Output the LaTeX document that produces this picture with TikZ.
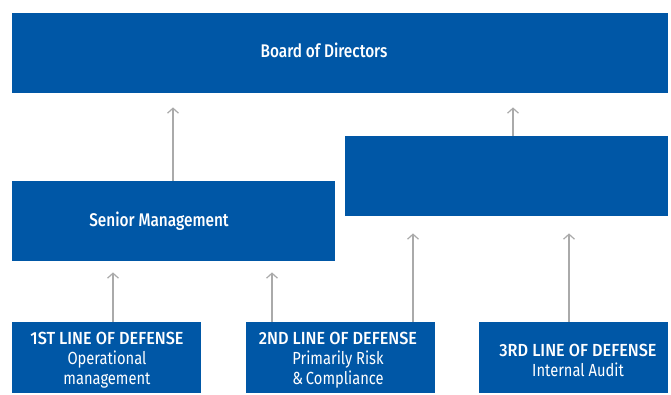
\documentclass[tikz,border=0pt]{standalone}
\usepackage{fontspec}
\setmainfont{Fira Sans}[FakeStretch=0.84]
\newfontfamily\medfont{Fira Sans Medium}[FakeStretch=0.84]
\newfontfamily\headfont{Fira Sans Medium}[FakeStretch=0.93]
\usetikzlibrary{arrows.meta}
\definecolor{corpblue}{RGB}{0,87,166}
\definecolor{arrowgray}{RGB}{170,170,170}
\begin{document}
\begin{tikzpicture}[x=1pt,y=-1pt,
  box/.style={fill=corpblue, draw=none, anchor=north west, inner sep=0pt},
  title/.style={text=white, font=\medfont\fontsize{18.3}{22}\selectfont, inner sep=0pt},
  lod/.style={text=white, align=center, inner sep=0pt,
    font=\fontsize{17.5}{20}\selectfont},
  arr/.style={draw=arrowgray, line width=1.4pt,
    -{Straight Barb[length=5pt,width=11pt,line width=1.2pt]}}]
  \useasboundingbox (0,0) rectangle (671,394);

  % boxes
  \node[box, minimum width=656pt, minimum height=80pt] (board) at (12,13) {};
  \node[box, minimum width=323pt, minimum height=80pt] (senior) at (12,181) {};
  \node[box, minimum width=323pt, minimum height=80pt] (oversight) at (345,136) {};
  \node[box, minimum width=189pt, minimum height=71pt] (first) at (12,322) {};
  \node[box, minimum width=189pt, minimum height=71pt] (second) at (246,322) {};
  \node[box, minimum width=189pt, minimum height=71pt] (third) at (479,322) {};

  % labels
  \node[title] (boardtxt) at (324,50) {Board of Directors};
  \node[title] (seniortxt) at (159,221) {Senior Management};
  \node[lod] (firsttxt) at (107,360) {{\headfont 1ST LINE OF DEFENSE}\\Operational\\management};
  \node[lod] (secondtxt) at (338,360) {{\headfont 2ND LINE OF DEFENSE}\\Primarily Risk\\\&\,Compliance};
  \node[lod] (thirdtxt) at (578,360) {{\headfont 3RD LINE OF DEFENSE}\\Internal Audit};

  % arrow columns
  \coordinate (c1) at (113,0);
  \coordinate (c2) at (272,0);
  \coordinate (c3) at (413,0);
  \coordinate (c4) at (569,0);
  \coordinate (c5) at (173,0);
  \coordinate (c6) at (513,0);

  % connectors
  \draw[arr, shorten >=14pt] (senior.north -| c5) -- (board.south -| c5);
  \draw[arr, shorten >=14pt] (oversight.north -| c6) -- (board.south -| c6);
  \draw[arr, shorten >=11pt] (first.north -| c1) -- (senior.south -| c1);
  \draw[arr, shorten >=11pt] (second.north -| c2) -- (senior.south -| c2);
  \draw[arr, shorten >=17pt] (second.north -| c3) -- (oversight.south -| c3);
  \draw[arr, shorten >=17pt] (third.north -| c4) -- (oversight.south -| c4);
\end{tikzpicture}
\end{document}
